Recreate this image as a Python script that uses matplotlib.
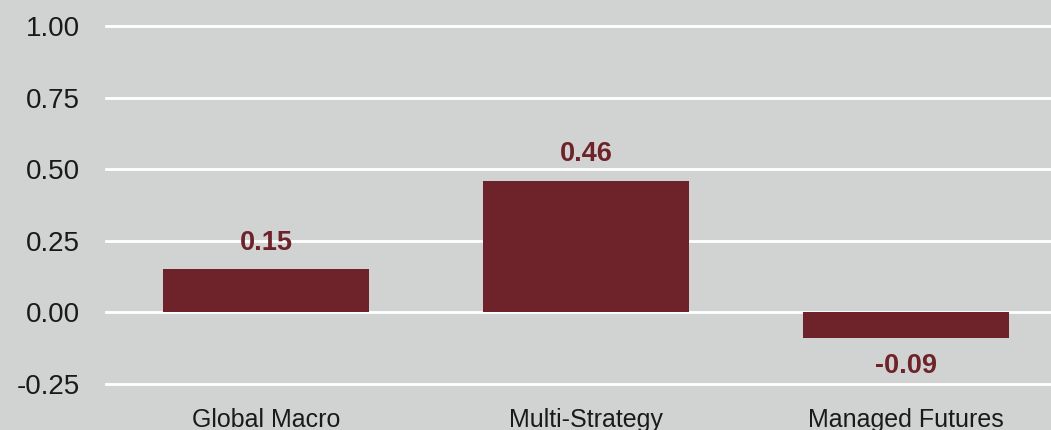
import matplotlib
matplotlib.use("Agg")
import matplotlib.pyplot as plt

categories = ["Global Macro", "Multi-Strategy", "Managed Futures"]
values = [0.15, 0.46, -0.09]
yticks = [-0.25, 0.00, 0.25, 0.50, 0.75, 1.00]

bg = "#d1d3d2"
bar_color = "#6e2229"

plt.rcParams["font.family"] = ["Liberation Sans", "DejaVu Sans"]

fig = plt.figure(figsize=(10.51, 4.30), dpi=100, facecolor=bg)
ax = fig.add_axes([0.1009, 0.107, 0.899, 0.8326], facecolor=bg)

x = list(range(len(categories)))
bars = ax.bar(x, values, width=0.644, color=bar_color, zorder=3)

for rect, v in zip(bars, values):
    cx = rect.get_x() + rect.get_width() / 2
    if v >= 0:
        ax.annotate(f"{v:.2f}", (cx, v), xytext=(0, 10), textcoords="offset points",
                    ha="center", va="bottom", fontsize=19.5, fontweight="bold",
                    color=bar_color, zorder=4)
    else:
        ax.annotate(f"{v:.2f}", (cx, v), xytext=(0, -11), textcoords="offset points",
                    ha="center", va="top", fontsize=19.5, fontweight="bold",
                    color=bar_color, zorder=4)

ax.set_xlim(-0.5, 2.453)
ax.set_ylim(-0.25, 1.0)
ax.set_yticks(yticks)
ax.set_yticklabels([f"{t:.2f}" for t in yticks])
ax.set_xticks(x)
ax.set_xticklabels(categories)

ax.yaxis.grid(True, color="white", linewidth=2, zorder=1)
for gl in ax.get_ygridlines():
    gl.set_clip_on(False)
ax.set_axisbelow(True)
for s in ax.spines.values():
    s.set_visible(False)
ax.tick_params(axis="y", length=0, pad=19, labelsize=20, labelcolor="#1a1a1a")
ax.tick_params(axis="x", length=0, pad=17, labelsize=18, labelcolor="#1a1a1a")

fig.savefig("out.png", dpi=100, facecolor=bg)
